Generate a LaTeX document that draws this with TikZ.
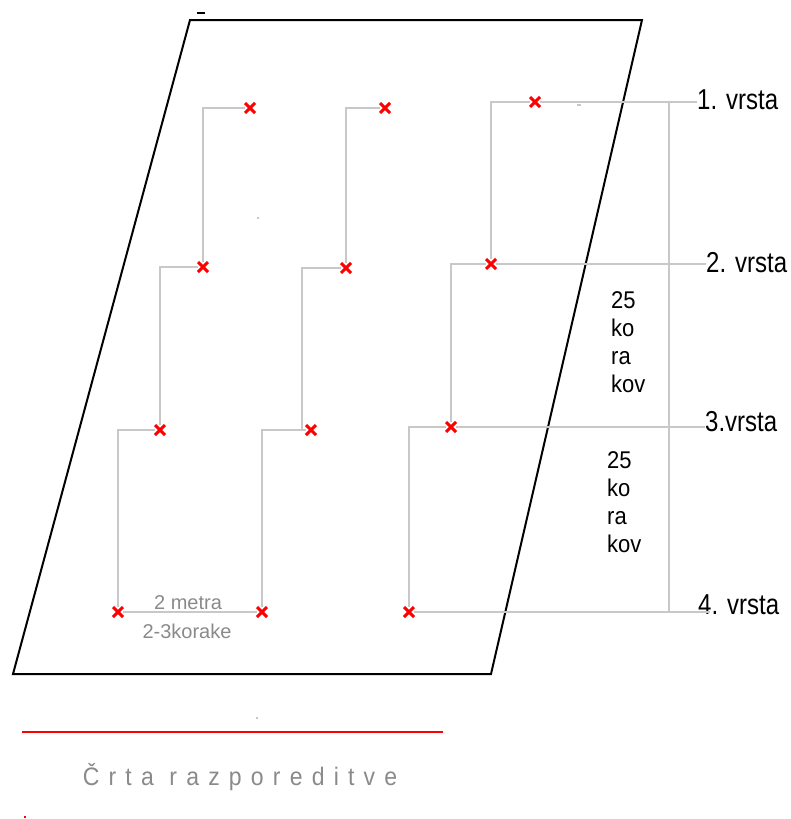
\documentclass[tikz,border=0pt]{standalone}
\usepackage{fontspec}
\setmainfont{Liberation Sans}
\newfontfamily\tracked[LetterSpace=40]{Liberation Sans}
\usetikzlibrary{shapes.misc}

\definecolor{guidegray}{HTML}{C8C8C8}
\definecolor{notegray}{HTML}{8A8A8A}
\definecolor{markred}{HTML}{FF0000}

\begin{document}
\begin{tikzpicture}[x=1pt,y=-1pt,
  plant/.style={cross out, draw=markred, line width=3pt, minimum size=7pt, inner sep=0pt},
  guide/.style={draw=guidegray, line width=1.6pt},
  field/.style={draw=black, line width=2pt, line join=miter},
  rowlabel/.style={font=\fontsize{24}{24}\selectfont, inner sep=0pt},
  steps/.style={font=\fontsize{22}{28}\selectfont, align=left, anchor=north west, inner sep=0pt},
  note/.style={text=notegray, font=\fontsize{20}{20}\selectfont, inner sep=0pt}]

\useasboundingbox (0,0) rectangle (790,819);

% the field
\draw[field] (190,20) -- (642,20) -- (491,674) -- (13,674) -- cycle;

% planting spots, three columns of four rows
\node[plant] (m11) at (250,108) {};
\node[plant] (m12) at (203,267) {};
\node[plant] (m13) at (160,430) {};
\node[plant] (m14) at (118,612) {};

\node[plant] (m21) at (385,108) {};
\node[plant] (m22) at (346,268) {};
\node[plant] (m23) at (311,430) {};
\node[plant] (m24) at (262,612) {};

\node[plant] (m31) at (535,102) {};
\node[plant] (m32) at (491,264) {};
\node[plant] (m33) at (451,427) {};
\node[plant] (m34) at (409,612) {};

\coordinate (c23) at (302,430);

% row labels
\node[rowlabel, anchor=west] (v1) at (697,100) {\scalebox{1}[1.2]{1. vrsta}};
\node[rowlabel, anchor=west] (v2) at (706,263) {\scalebox{1}[1.2]{2. vrsta}};
\node[rowlabel, anchor=west] (v3) at (705,422) {\scalebox{1}[1.2]{3.vrsta}};
\node[rowlabel, anchor=base west] (v4) at (698,614) {\scalebox{1}[1.2]{4. vrsta}};
\coordinate (e4) at (710,612);
\coordinate (t1) at (669,102);
\coordinate (t4) at (669,612);

% walking lines
\draw[guide] (m11) -| (m12) -| (m13) -| (m14) -- (m24);
\draw[guide] (m21) -| (m22) -| (c23);
\draw[guide] (m23) -| (m24);
\draw[guide] (m31 -| v1.west) -- (m31) -| (m32);
\draw[guide] (m32 -| v2.west) -- (m32) -| (m33);
\draw[guide] (m33 -| v3.west) -- (m33) -| (m34);
\draw[guide] (m34) -- (e4);
\draw[guide] (t1) -- (t4);

% distances
\node[steps] (k1) at (611,291) {\scalebox{1}[1.1]{25}\\\scalebox{1}[1.1]{ko}\\\scalebox{1}[1.1]{ra}\\\scalebox{1}[1.1]{kov}};
\node[steps] (k2) at (607,451) {\scalebox{1}[1.1]{25}\\\scalebox{1}[1.1]{ko}\\\scalebox{1}[1.1]{ra}\\\scalebox{1}[1.1]{kov}};

\node[note] (d1) at (188,603) {2 metra};
\node[note] (d2) at (187,631) {2-3korake};

% layout line
\coordinate (r1) at (22,732);
\coordinate (r2) at (443,732);
\draw[draw=markred, line width=2pt] (r1) -- (r2);
\node[note, font=\tracked\fontsize{23}{23}\selectfont] (cr) at (240,777) {\scalebox{1}[1.1]{Črta razporeditve}};

% stray marks
\draw[line width=1.5pt] (197,13) -- (205,13);
\fill[guidegray] (577,104) rectangle (581,106);
\fill[guidegray] (257,217) rectangle (259,219);
\fill[guidegray] (256,717) rectangle (258,719);
\fill[markred] (24,816) rectangle (26,818);
\end{tikzpicture}
\end{document}
